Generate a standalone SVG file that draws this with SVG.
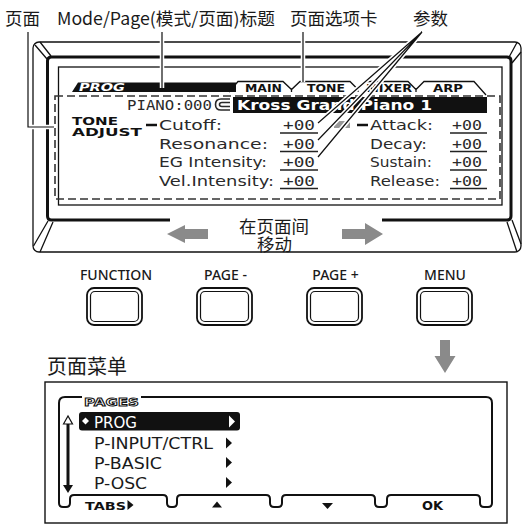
<svg xmlns="http://www.w3.org/2000/svg" width="524" height="525" viewBox="0 0 524 525">
<style>
.cjk{font-family:"Noto Sans CJK SC","Noto Sans",sans-serif;fill:#1a1a1a}
.btn{font-family:"Noto Sans","Liberation Sans",sans-serif;font-size:14px;font-weight:500;fill:#1a1a1a;text-anchor:middle}
.lcd{font-family:"DejaVu Sans","Liberation Sans",sans-serif;font-size:14.5px;fill:#2a2a2a}
.mono{font-family:"DejaVu Sans Mono","Liberation Mono",monospace;font-size:14.5px;fill:#2a2a2a}
.pix{font-family:"DejaVu Sans","Liberation Sans",sans-serif;font-weight:bold;fill:#111}
.ln{fill:none;stroke:#111;stroke-width:1.3}
.thick{fill:none;stroke:#111;stroke-width:3;stroke-linejoin:round}
.ul{stroke:#222;stroke-width:1.3}
.grey{fill:#8a8a8a}
.halo{fill:none;stroke:#fff;stroke-width:4.5}
.lead{fill:none;stroke:#111;stroke-width:1.2}
.menu{font-family:"DejaVu Sans","Liberation Sans",sans-serif;font-size:15px;fill:#1a1a1a}
</style>

<g id="top-labels">
<text class="cjk" x="5" y="25" font-size="17.5">页面</text>
<text class="cjk" x="57" y="25" font-size="17.5" textLength="218" lengthAdjust="spacingAndGlyphs">Mode/Page(模式/页面)标题</text>
<text class="cjk" x="290" y="25" font-size="17.5">页面选项卡</text>
<text class="cjk" x="413" y="25" font-size="17.5">参数</text>
</g>

<g id="lcd-bezel">
<rect class="ln" x="33" y="42" width="488" height="210" rx="6"/>
<path class="thick" d="M170 220 L51.5 220 Q47.5 220 47.5 216 L47.5 61 Q47.5 57 51.5 57 L507 57 Q511 57 511 61 L511 216 Q511 220 507 220 L382 220"/>
<path class="ln" d="M35 45 L47 59 M40 42 L51 56 M48 221 L33.5 246 M53 222 L40 252 M508 59 L517 42.5 M512 63 L521 52 M507 222 L517 252 M512 220 L521 244"/>
<rect class="ln" x="58.5" y="67" width="443.5" height="138" stroke-width="1.2"/>
</g>

<g id="lcd-screen">
<rect x="55" y="96" width="445" height="103" fill="none" stroke="#333" stroke-width="1.6" stroke-dasharray="8 4"/>
<polygon points="72,92 78,82.5 236,82.5 236,92" fill="#111"/>
<text x="79" y="91" font-family="DejaVu Sans,sans-serif" font-size="11" font-weight="bold" font-style="italic" fill="#fff" textLength="46" lengthAdjust="spacingAndGlyphs">PROG</text>
<path class="ln" stroke-width="1.2" d="M229 92 L238 81.5 L283 81.5 L291.5 89.5 L300 81.5 L350 81.5 L358 89.5 L366 81.5 L408 81.5 L416 89.5 L424 81.5 L474 81.5 L486 95 M291.5 89.5 L291.5 92 M358 89.5 L358 92 M416 89.5 L416 92"/>
<text class="pix" x="245" y="92" font-size="10.5" textLength="37" lengthAdjust="spacingAndGlyphs">MAIN</text>
<text class="pix" x="307" y="92" font-size="10.5" textLength="38" lengthAdjust="spacingAndGlyphs">TONE</text>
<text class="pix" x="366" y="92" font-size="10.5" textLength="46" lengthAdjust="spacingAndGlyphs">MIXER</text>
<text class="pix" x="433" y="92" font-size="10.5" textLength="30" lengthAdjust="spacingAndGlyphs">ARP</text>

<text class="mono" x="127" y="110" font-size="15" textLength="85" lengthAdjust="spacingAndGlyphs">PIANO:000</text>
<path fill="none" stroke="#2a2a2a" stroke-width="1.6" d="M230 99 L221 99 Q215.5 99 215.5 104.5 Q215.5 110 221 110 L230 110 M230 102.5 L222 102.5 Q219.5 102.5 219.5 104.5 Q219.5 106.5 222 106.5 L230 106.5"/>
<rect x="233" y="97" width="254" height="16" fill="#111"/>
<text x="237" y="110" font-family="DejaVu Sans,sans-serif" font-size="14" font-weight="bold" fill="#fff" textLength="195" lengthAdjust="spacingAndGlyphs">Kross Grand Piano 1</text>

<text class="pix" font-size="9.8"><tspan x="72" y="124.5" textLength="46" lengthAdjust="spacingAndGlyphs">TONE</tspan><tspan x="72" y="135.5" textLength="70" lengthAdjust="spacingAndGlyphs">ADJUST</tspan></text>
<line x1="146" y1="125" x2="157" y2="125" stroke="#111" stroke-width="2.5"/>
<line x1="357" y1="125" x2="368" y2="125" stroke="#111" stroke-width="2.5"/>
<rect x="334" y="121" width="16" height="7" fill="#999"/>

<text class="lcd" x="159" y="130" textLength="63" lengthAdjust="spacingAndGlyphs">Cutoff:</text>
<text class="lcd" x="159" y="148.5" textLength="109" lengthAdjust="spacingAndGlyphs">Resonance:</text>
<text class="lcd" x="159" y="167" textLength="108" lengthAdjust="spacingAndGlyphs">EG Intensity:</text>
<text class="lcd" x="159" y="185.5" textLength="115" lengthAdjust="spacingAndGlyphs">Vel.Intensity:</text>
<text class="mono" x="283" y="130" textLength="32" lengthAdjust="spacingAndGlyphs">+00</text>
<text class="mono" x="283" y="148.5" textLength="32" lengthAdjust="spacingAndGlyphs">+00</text>
<text class="mono" x="283" y="167" textLength="32" lengthAdjust="spacingAndGlyphs">+00</text>
<text class="mono" x="283" y="185.5" textLength="32" lengthAdjust="spacingAndGlyphs">+00</text>
<path class="ul" d="M280 133 H318 M280 151.5 H318 M280 170 H318 M280 188.5 H318"/>

<text class="lcd" x="370" y="130" textLength="63" lengthAdjust="spacingAndGlyphs">Attack:</text>
<text class="lcd" x="370" y="148.5" textLength="57" lengthAdjust="spacingAndGlyphs">Decay:</text>
<text class="lcd" x="370" y="167" textLength="62" lengthAdjust="spacingAndGlyphs">Sustain:</text>
<text class="lcd" x="370" y="185.5" textLength="70" lengthAdjust="spacingAndGlyphs">Release:</text>
<text class="mono" x="452" y="130" textLength="30" lengthAdjust="spacingAndGlyphs">+00</text>
<text class="mono" x="452" y="148.5" textLength="30" lengthAdjust="spacingAndGlyphs">+00</text>
<text class="mono" x="452" y="167" textLength="30" lengthAdjust="spacingAndGlyphs">+00</text>
<text class="mono" x="452" y="185.5" textLength="30" lengthAdjust="spacingAndGlyphs">+00</text>
<path class="ul" d="M450 133 H487 M450 151.5 H487 M450 170 H487 M450 188.5 H487"/>
</g>

<g id="connectors">
<path class="halo" d="M28 32 V127 H54 M162 32 V88 M303 32 V82 M422 32 L318 123 M422 32 L318 140 M422 32 L318 157"/>
<path class="lead" d="M28 32 V127 H54 M162 32 V88 M303 32 V82 M422 32 L318 123 M422 32 L318 140 M422 32 L318 157"/>
<polygon class="grey" points="167,234 185,225 185,229 208,229 208,239 185,239 185,243"/>
<polygon class="grey" points="342,229 365,229 365,223 383,234 365,245 365,239 342,239"/>
<polygon class="grey" points="440,340 450,340 450,356 455.5,356 445,373 434.5,356 440,356"/>
</g>

<g id="move-label">
<text class="cjk" font-size="17.5"><tspan x="239" y="233">在页面间</tspan><tspan x="257" y="251">移动</tspan></text>
</g>

<g id="btn-function">
<text class="btn" x="116" y="280">FUNCTION</text>
<rect x="87" y="288" width="55" height="37" rx="7" fill="none" stroke="#111" stroke-width="1.8"/>
<rect x="90.5" y="291.5" width="48" height="30" rx="4.5" fill="none" stroke="#111" stroke-width="1.2"/>
</g>
<g id="btn-page-minus">
<text class="btn" x="225.5" y="280">PAGE -</text>
<rect x="197" y="288" width="55" height="37" rx="7" fill="none" stroke="#111" stroke-width="1.8"/>
<rect x="200.5" y="291.5" width="48" height="30" rx="4.5" fill="none" stroke="#111" stroke-width="1.2"/>
</g>
<g id="btn-page-plus">
<text class="btn" x="335.5" y="280">PAGE +</text>
<rect x="307" y="288" width="55" height="37" rx="7" fill="none" stroke="#111" stroke-width="1.8"/>
<rect x="310.5" y="291.5" width="48" height="30" rx="4.5" fill="none" stroke="#111" stroke-width="1.2"/>
</g>
<g id="btn-menu">
<text class="btn" x="445" y="280">MENU</text>
<rect x="417" y="288" width="55" height="37" rx="7" fill="none" stroke="#111" stroke-width="1.8"/>
<rect x="420.5" y="291.5" width="48" height="30" rx="4.5" fill="none" stroke="#111" stroke-width="1.2"/>
</g>

<g id="page-menu">
<text class="cjk" x="47" y="374" font-size="20">页面菜单</text>
<rect x="45" y="382" width="462" height="141" fill="none" stroke="#111" stroke-width="1.4"/>
<path fill="none" stroke="#111" stroke-width="2" stroke-linejoin="round" d="M82 397 L65 397 Q59 397 59 403 L59 503 Q59 507 63 507 L66 507 Q70 507 70 503 L70 499 Q70 495 74 495 L163 495 Q167 495 167 499 L167 503 Q167 507 171 507 L173 507 Q177 507 177 503 L177 499 Q177 495 181 495 L266 495 Q270 495 270 499 L270 503 Q270 507 274 507 L278 507 Q282 507 282 503 L282 499 Q282 495 286 495 L371 495 Q375 495 375 499 L375 503 Q375 507 379 507 L383 507 Q387 507 387 503 L387 499 Q387 495 391 495 L476 495 Q480 495 480 499 L480 503 Q480 507 484 507 L488 507 Q492 507 492 503 L492 403 Q492 397 486 397 L141 397"/>
<text x="84" y="406" font-family="DejaVu Sans,sans-serif" font-size="11" font-weight="bold" fill="#fff" stroke="#111" stroke-width="0.9" textLength="55" lengthAdjust="spacingAndGlyphs">PAGES</text>
<line x1="68" y1="423" x2="68" y2="486" stroke="#111" stroke-width="3"/>
<polygon points="63.5,424 68,416 72.5,424" fill="#fff" stroke="#111" stroke-width="1.2"/>
<polygon points="63,485 73,485 68,493" fill="#111"/>
<rect x="79" y="412" width="161" height="18.5" rx="3" fill="#111"/>
<polygon points="85.5,417.5 89,421 85.5,424.5 82,421" fill="#fff"/>
<text class="menu" x="94" y="427.5" style="fill:#fff" textLength="43" lengthAdjust="spacingAndGlyphs">PROG</text>
<polygon points="229,415.5 235,421.5 229,427.5" fill="#fff"/>
<text class="menu" x="94" y="448.5" textLength="119" lengthAdjust="spacingAndGlyphs">P-INPUT/CTRL</text>
<polygon points="226,437.5 232,443 226,448.5" fill="#111"/>
<text class="menu" x="94" y="468.5" textLength="68" lengthAdjust="spacingAndGlyphs">P-BASIC</text>
<polygon points="226,457 232,462.5 226,468" fill="#111"/>
<text class="menu" x="94" y="488.5" textLength="53" lengthAdjust="spacingAndGlyphs">P-OSC</text>
<polygon points="226,477 232,482.5 226,488" fill="#111"/>
<text class="pix" x="85" y="509.5" font-size="11" textLength="41" lengthAdjust="spacingAndGlyphs">TABS</text>
<polygon points="127.5,500 133.5,505 127.5,510" fill="#111"/>
<polygon points="212,507.5 217,501.5 222,507.5" fill="#111"/>
<polygon points="322,503 333,503 327.5,509" fill="#111"/>
<text class="pix" x="422" y="510" font-size="11.5" textLength="21" lengthAdjust="spacingAndGlyphs">OK</text>
</g>
</svg>
